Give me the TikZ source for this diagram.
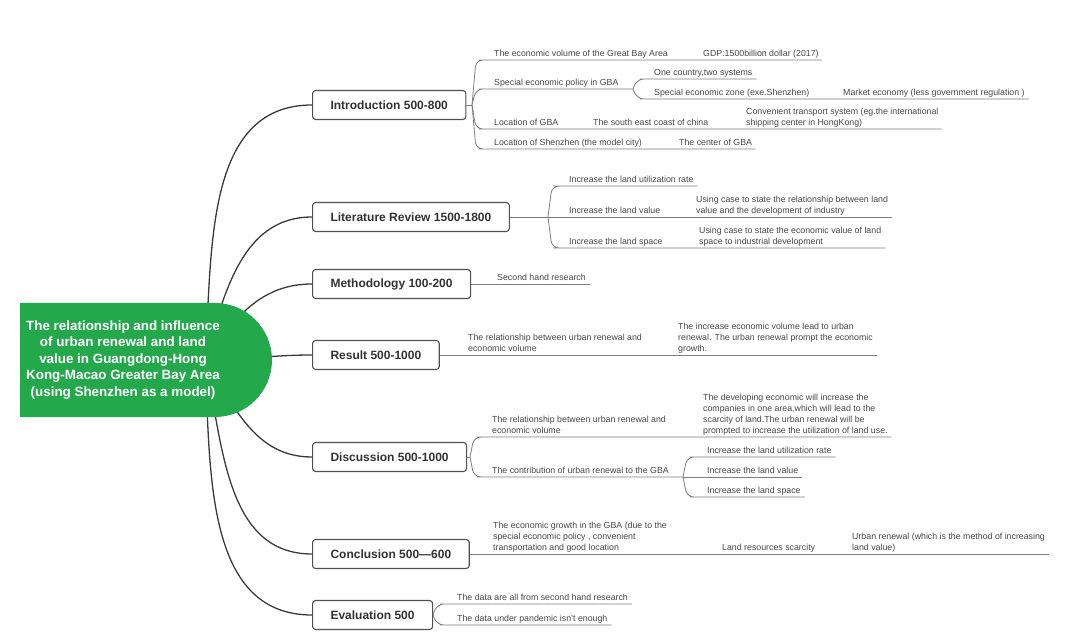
\documentclass[tikz,border=0pt]{standalone}
\usepackage{fontspec}
\setmainfont{Liberation Sans}
\usetikzlibrary{positioning,calc}

\definecolor{rootgreen}{RGB}{36,168,76}
\definecolor{trunkgray}{RGB}{58,58,58}
\definecolor{boxgray}{RGB}{80,80,80}
\definecolor{leafgray}{RGB}{125,125,125}
\definecolor{leaftext}{RGB}{70,70,70}

\begin{document}
\begin{tikzpicture}[
        x = 1pt, y = -1pt,
        line join=round,
        trunk/.style = {line width=1.3pt, trunkgray},
        topic/.style = {draw=boxgray, line width=1.1pt, rounded corners=3pt, fill=white, anchor=west,
            inner xsep=18pt, minimum height=29pt, text=black!80, font=\fontsize{12}{14}\selectfont\bfseries},
        leaf/.style = {anchor=south west, inner xsep=0pt, inner ysep=1.5pt, text depth=2pt, align=left,
            text=leaftext, font=\fontsize{8.8}{11}\selectfont},
        twig/.style = {line width=0.8pt, leafgray, rounded corners=7pt},
        fork/.style = {to path={-- ($(\tikztostart |- \tikztotarget)+(4,0)$) -- (\tikztotarget)}}
    ]

    \useasboundingbox (0,0) rectangle (1080,639);

    \coordinate (hub) at (205,360);

    \node[topic] (intro) at (312,105) {Introduction 500-800};
    \node[topic] (lit) at (312,217) {Literature Review 1500-1800};
    \node[topic] (method) at (312,284) {Methodology 100-200};
    \node[topic] (result) at (312,355) {Result 500-1000};
    \node[topic] (disc) at (312,457) {Discussion 500-1000};
    \node[topic] (concl) at (312,554) {Conclusion 500—600};
    \node[topic] (evaluation) at (312,615) {Evaluation 500};

    \draw[trunk] (hub) to[out=86, in=180] (intro.west);
    \draw[trunk] (hub) to[out=74, in=180] (lit.west);
    \draw[trunk] (hub) to[out=55, in=180] (method.west);
    \draw[trunk] (hub) to[out=0, in=180] (result.west);
    \draw[trunk] (hub) to[out=-58, in=180] (disc.west);
    \draw[trunk] (hub) to[out=-78, in=180] (concl.west);
    \draw[trunk] (hub) to[out=-87, in=180] (evaluation.west);

    \fill[rootgreen] (20,303) -- (215,303) arc[start angle=-90, end angle=90, radius=57] -- (20,417) -- cycle;
    \node[align=center, text=white, font=\fontsize{13.4}{16.5}\selectfont\bfseries] (root) at (123,360)
        {The relationship and influence\\of urban renewal and land\\value in Guangdong-Hong\\Kong-Macao Greater Bay Area\\(using Shenzhen as a model)};

    % Introduction
    \coordinate (introfork) at (472,105);
    \coordinate (policyfork) at (633,89);
    \node[leaf] (gba) at (494,60) {The economic volume of the Great Bay Area};
    \node[leaf] (gdp) at (703,60) {GDP:1500billion dollar (2017)};
    \node[leaf] (policy) at (494,89) {Special economic policy in GBA};
    \node[leaf] (onecountry) at (654,79) {One country,two systems};
    \node[leaf] (sez) at (654,99) {Special economic zone (exe.Shenzhen)};
    \node[leaf] (market) at (843,99) {Market economy (less government regulation )};
    \node[leaf] (locgba) at (494,129) {Location of GBA};
    \node[leaf] (coast) at (593,129) {The south east coast of china};
    \node[leaf] (transport) at (746,129) {Convenient transport system (eg.the international\\shipping center in HongKong)};
    \node[leaf] (locsz) at (494,149) {Location of Shenzhen (the model city)};
    \node[leaf] (szcenter) at (679,149) {The center of GBA};

    \draw[twig] (intro.east) -- (introfork);
    \draw[twig] (introfork) to[fork] ([xshift=-8pt]gba.south west) -- ([xshift=3pt]gdp.south east);
    \draw[twig] (introfork) to[fork] ([xshift=-8pt]policy.south west) -- (policyfork);
    \draw[twig] (policyfork) to[fork] ([xshift=-7pt]onecountry.south west) -- ([xshift=4pt]onecountry.south east);
    \draw[twig] (policyfork) to[fork] ([xshift=-7pt]sez.south west) -- ([xshift=4pt]market.south east);
    \draw[twig] (introfork) to[fork] ([xshift=-8pt]locgba.south west) -- ([xshift=3pt]transport.south east);
    \draw[twig] (introfork) to[fork] ([xshift=-8pt]locsz.south west) -- ([xshift=3pt]szcenter.south east);

    % Literature review
    \coordinate (litfork) at (548,217);
    \node[leaf] (litrate) at (569,186) {Increase the land utilization rate};
    \node[leaf] (litvalue) at (569,217) {Increase the land value};
    \node[leaf] (litcase1) at (696,217) {Using case to state the relationship between land\\value and the development of industry};
    \node[leaf] (litspace) at (569,248) {Increase the land space};
    \node[leaf] (litcase2) at (699,248) {Using case to state the economic value of land\\space to industrial development};

    \draw[twig] (lit.east) -- ([xshift=4pt]litcase1.south east);
    \draw[twig] (litfork) to[fork] ([xshift=-9pt]litrate.south west) -- ([xshift=4pt]litrate.south east);
    \draw[twig] (litfork) to[fork] ([xshift=-9pt]litspace.south west) -- ([xshift=4pt]litcase2.south east);

    % Methodology
    \node[leaf] (secondhand) at (497,284) {Second hand research};
    \draw[twig] (method.east) -- ([xshift=4pt]secondhand.south east);

    % Result
    \node[leaf] (resrel) at (468,355) {The relationship between urban renewal and\\economic volume};
    \node[leaf] (resinc) at (678,355) {The increase economic volume lead to urban\\renewal. The urban renewal prompt the economic\\growth.};
    \draw[twig] (result.east) -- ([xshift=4pt]resinc.south east);

    % Discussion
    \coordinate (discfork) at (470,457);
    \coordinate (contrfork) at (683,477);
    \node[leaf] (discrel) at (492,437) {The relationship between urban renewal and\\economic volume};
    \node[leaf] (discdev) at (703,437) {The developing economic will increase the\\companies in one area,which will lead to the\\scarcity of land.The urban renewal will be\\prompted to increase the utilization of land use.};
    \node[leaf] (contr) at (492,477) {The contribution of urban renewal to the GBA};
    \node[leaf] (gbarate) at (707,457) {Increase the land utilization rate};
    \node[leaf] (gbavalue) at (707,477) {Increase the land value};
    \node[leaf] (gbaspace) at (707,497) {Increase the land space};

    \draw[twig] (disc.east) -- (discfork);
    \draw[twig] (discfork) to[fork] ([xshift=-8pt]discrel.south west) -- ([xshift=3pt]discdev.south east);
    \draw[twig] (discfork) to[fork] ([xshift=-8pt]contr.south west) -- (contrfork);
    \draw[twig] (contrfork) to[fork] ([xshift=-10pt]gbarate.south west) -- ([xshift=4pt]gbarate.south east);
    \draw[twig] (contrfork) -- ([xshift=4pt]gbavalue.south east);
    \draw[twig] (contrfork) to[fork] ([xshift=-10pt]gbaspace.south west) -- ([xshift=4pt]gbaspace.south east);

    % Conclusion
    \node[leaf] (growth) at (493,554) {The economic growth in the GBA (due to the\\special economic policy , convenient\\transportation and good location};
    \node[leaf] (scarcity) at (722,554) {Land resources scarcity};
    \node[leaf] (renewal) at (852,554) {Urban renewal (which is the method of increasing\\land value)};
    \draw[twig] (concl.east) -- ([xshift=4pt]renewal.south east);

    % Evaluation
    \coordinate (evalfork) at (433,615);
    \node[leaf] (dataall) at (457,604) {The data are all from second hand research};
    \node[leaf] (datapan) at (457,625) {The data under pandemic isn't enough};
    \draw[twig] (evaluation.east) -- (evalfork);
    \draw[twig] (evalfork) to[fork] ([xshift=-10pt]dataall.south west) -- ([xshift=4pt]dataall.south east);
    \draw[twig] (evalfork) to[fork] ([xshift=-10pt]datapan.south west) -- ([xshift=4pt]datapan.south east);

\end{tikzpicture}
\end{document}
